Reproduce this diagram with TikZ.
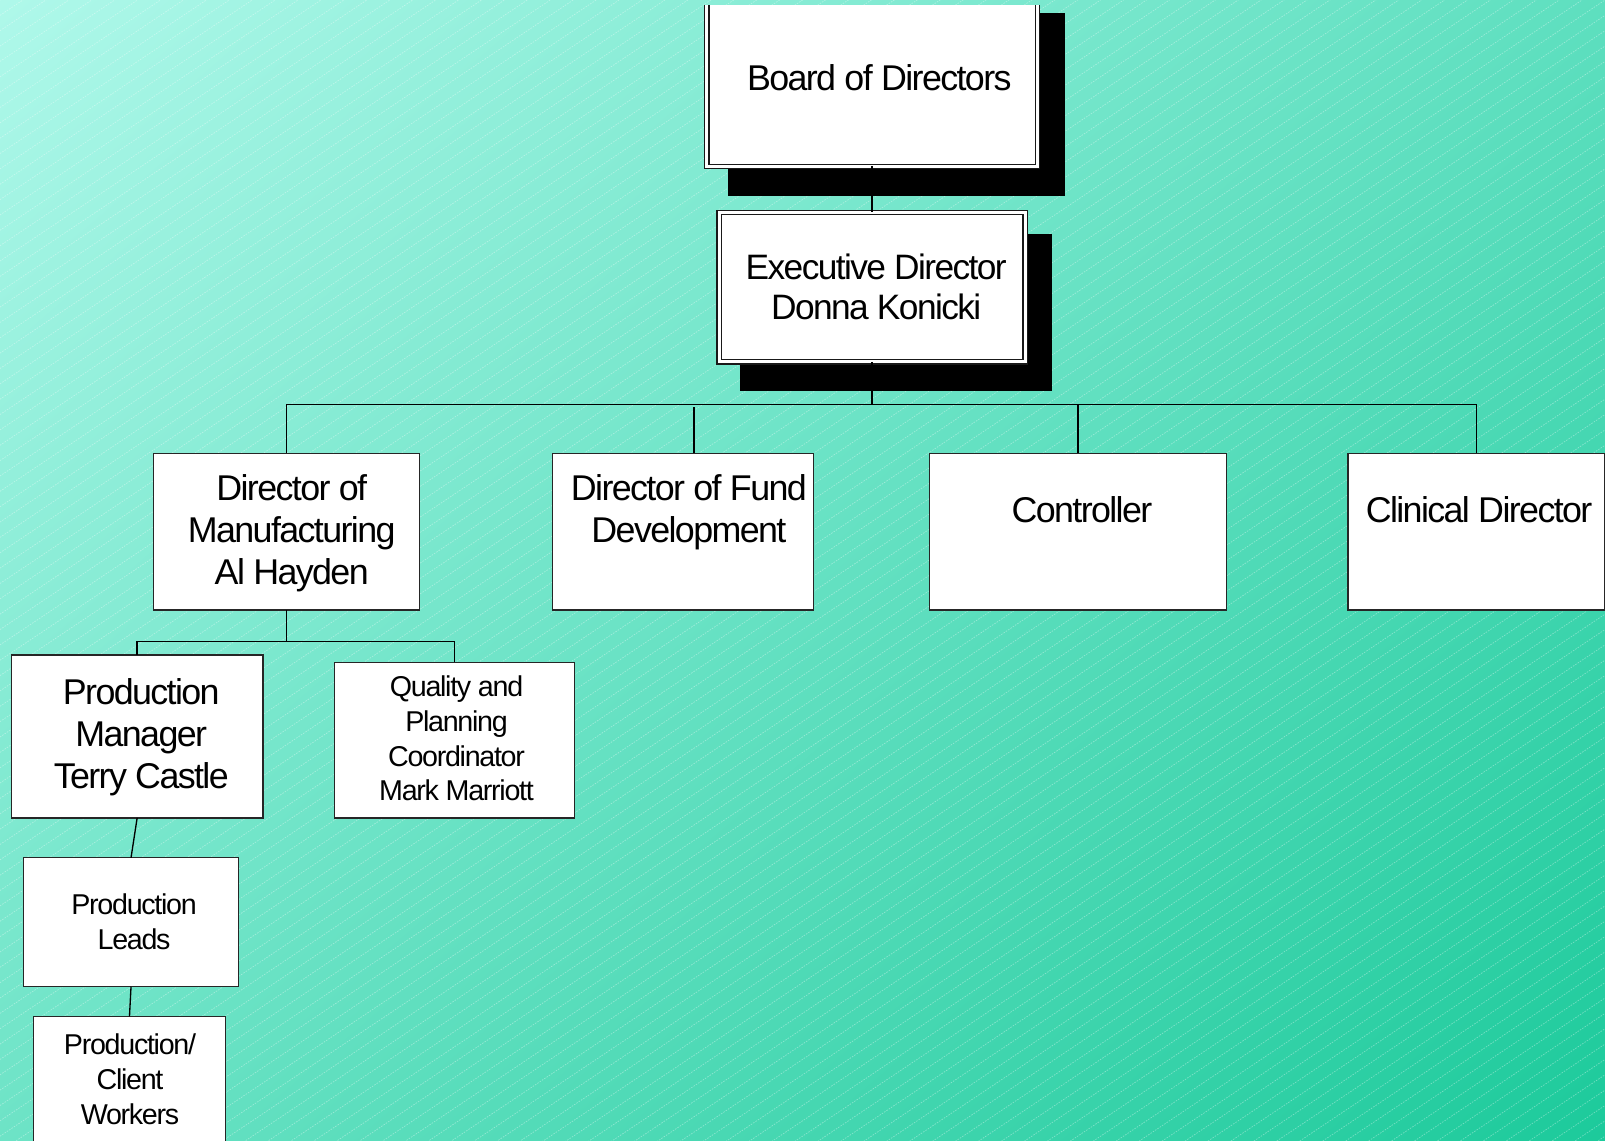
\documentclass[tikz,border=0pt]{standalone}
\usepackage{fontspec}
\usetikzlibrary{shadings}
\newfontfamily\orgfont[LetterSpace=-4.5]{Liberation Sans}
\definecolor{bgA}{RGB}{175,248,234}
\definecolor{bgB}{RGB}{94,223,191}
\definecolor{bgC}{RGB}{109,227,198}
\definecolor{bgD}{RGB}{28,202,155}
\tikzset{
  box/.style={rectangle, draw=black!85, line width=1.3pt, fill=white, inner sep=0pt, outer sep=0pt},
  dbox/.style={rectangle, draw=black!90, double=white, double distance=3pt, line width=1.2pt, fill=white, inner sep=0pt, outer sep=0pt},
  shadowbox/.style={rectangle, fill=black, draw=none, inner sep=0pt, outer sep=0pt},
  conn/.style={draw=black, line width=1.3pt},
  hatch/.style={draw=white, opacity=0.35, line width=0.7pt, dash pattern=on 1.5pt off 1.2pt},
  lblbig/.style={font={\orgfont\fontsize{35}{41}\selectfont}, align=center, anchor=north, inner sep=0pt},
  lblmid/.style={font={\orgfont\fontsize{34.5}{39}\selectfont}, align=center, anchor=north, inner sep=0pt},
  lblsmall/.style={font={\orgfont\fontsize{28}{34}\selectfont}, align=center, anchor=north, inner sep=0pt}
}
\begin{document}
\begin{tikzpicture}[x=1pt,y=-1pt]
\useasboundingbox (0,0) rectangle (1568,1114);
\clip (0,0) rectangle (1568,1114);
% background
\shade[upper left=bgA, upper right=bgB, lower left=bgC, lower right=bgD] (0,0) rectangle (1568,1114);
\foreach \i in {0,...,146} {
  \draw[hatch] (0,\i*15) -- ++(1568,-1050);
}
% shadows
\node[shadowbox, minimum width=329pt, minimum height=178pt] (boardsh) at (875.5,102) {};
\node[shadowbox, minimum width=305pt, minimum height=153pt] (execsh) at (875.5,305.5) {};
% boxes
\begin{scope}
\clip (0,5) rectangle (1568,1114);
\node[dbox, minimum width=323pt, minimum height=180pt] (board) at (852,72.5) {};
\end{scope}
\node[dbox, minimum width=299pt, minimum height=146pt] (exec) at (852,280.5) {};
\node[box, minimum width=260pt, minimum height=153pt] (manuf) at (280,519.5) {};
\node[box, minimum width=255pt, minimum height=153pt] (fund) at (667.5,519.5) {};
\node[box, minimum width=290pt, minimum height=153pt] (ctrl) at (1053,519.5) {};
\node[box, minimum width=251pt, minimum height=153pt] (clin) at (1442.5,519.5) {};
\node[box, minimum width=246pt, minimum height=159pt] (pm) at (134,719.5) {};
\node[box, minimum width=234pt, minimum height=152pt] (qual) at (444,723) {};
\node[box, minimum width=210pt, minimum height=126pt] (leads) at (128,901) {};
\node[box, minimum width=187pt, minimum height=140pt] (work) at (126.5,1063) {};
% coordinates
\coordinate (busy) at (0,395);
\coordinate (bus2) at (0,627);
\coordinate (fundtop) at (678,398);
\coordinate (fundin) at (678,443);
% connectors
\draw[conn] (board.south) -- (exec.north);
\draw[conn] (exec.south) -- (exec.south |- busy) -| (manuf.north);
\draw[conn] (exec.south |- busy) -| (ctrl.north);
\draw[conn] (exec.south |- busy) -| (clin.north);
\draw[conn] (fundtop) -- (fundin);
\draw[conn] (manuf.south) -- (manuf.south |- bus2) -| (pm.north);
\draw[conn] (manuf.south |- bus2) -| (qual.north);
\draw[conn] (pm.south) -- (leads.north);
\draw[conn] (leads.south) -- (work.north);
% labels
\node[lblbig] (tboard) at (859,63) {Board of Directors};
\node[lblmid] (texec) at (856,247.5) {Executive Director\\Donna Konicki};
\node[lblbig] (tmanuf) at (285,463) {Director of\\Manufacturing\\Al Hayden};
\node[lblbig] (tfund) at (673,463) {Director of Fund\\Development};
\node[lblbig] (tctrl) at (1057,485) {Controller};
\node[lblbig] (tclin) at (1445,485) {Clinical Director};
\node[lblbig] (tpm) at (138,663) {Production\\Manager\\Terry Castle};
\node[lblsmall] (tqual) at (446,660) {Quality and\\Planning\\Coordinator\\Mark Marriott};
\node[lblsmall] (tleads) at (131,873) {Production\\Leads};
\node[lblsmall] (twork) at (127,1010) {Production/\\Client\\Workers};
\end{tikzpicture}
\end{document}
